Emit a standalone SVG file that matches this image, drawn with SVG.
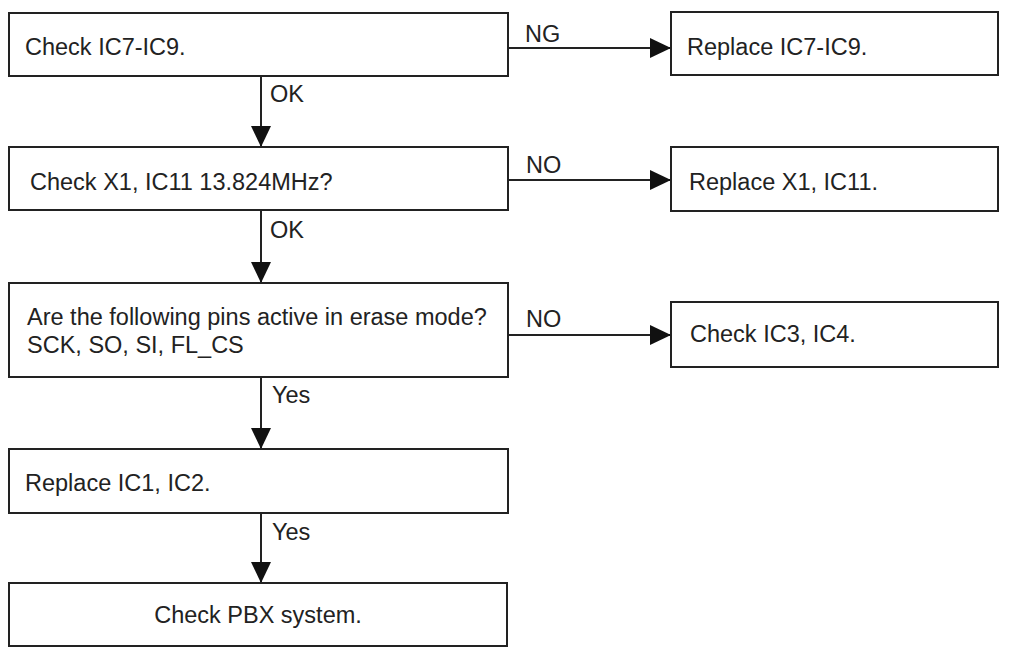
<svg xmlns="http://www.w3.org/2000/svg" width="1009" height="654" viewBox="0 0 1009 654">
<style>
.box{fill:#fff;stroke:#222;stroke-width:2}
.t{font-family:"Liberation Sans",Arial,sans-serif;font-size:23.5px;fill:#222}
.c{stroke:#222;stroke-width:2;fill:none;marker-end:url(#ah)}
</style>
<defs>
<marker id="ah" markerUnits="userSpaceOnUse" markerWidth="22" markerHeight="22" viewBox="0 0 22 22" refX="21" refY="11" orient="auto">
<path d="M0,1 L21,11 L0,21 Z" fill="#111"/>
</marker>
</defs>
<rect width="1009" height="654" fill="#fff"/>
<g id="connectors">
<path class="c" d="M508,48 H671"/>
<text class="t" x="525" y="42">NG</text>
<path class="c" d="M261,76 V147"/>
<text class="t" x="270" y="102">OK</text>
<path class="c" d="M508,180 H671"/>
<text class="t" x="526" y="173">NO</text>
<path class="c" d="M261,210 V283"/>
<text class="t" x="270" y="238">OK</text>
<path class="c" d="M508,335 H671"/>
<text class="t" x="526" y="327">NO</text>
<path class="c" d="M261,377 V449"/>
<text class="t" x="272" y="403">Yes</text>
<path class="c" d="M261,513 V583"/>
<text class="t" x="272" y="540">Yes</text>
</g>
<g id="n1"><rect class="box" x="9" y="13" width="499" height="63"/><text class="t" x="25" y="55">Check IC7-IC9.</text></g>
<g id="n2"><rect class="box" x="671" y="12" width="327" height="63"/><text class="t" x="687" y="55">Replace IC7-IC9.</text></g>
<g id="n3"><rect class="box" x="9" y="147" width="499" height="63"/><text class="t" x="30" y="190">Check X1, IC11 13.824MHz?</text></g>
<g id="n4"><rect class="box" x="671" y="147" width="327" height="64"/><text class="t" x="689" y="190">Replace X1, IC11.</text></g>
<g id="n5"><rect class="box" x="9" y="283" width="499" height="94"/><text class="t" x="27" y="325">Are the following pins active in erase mode?</text><text class="t" x="27" y="353">SCK, SO, SI, FL_CS</text></g>
<g id="n6"><rect class="box" x="671" y="302" width="327" height="65"/><text class="t" x="690" y="342">Check IC3, IC4.</text></g>
<g id="n7"><rect class="box" x="9" y="449" width="499" height="64"/><text class="t" x="25" y="491">Replace IC1, IC2.</text></g>
<g id="n8"><rect class="box" x="9" y="583" width="498" height="63"/><text class="t" x="258" y="623" text-anchor="middle">Check PBX system.</text></g>
</svg>
